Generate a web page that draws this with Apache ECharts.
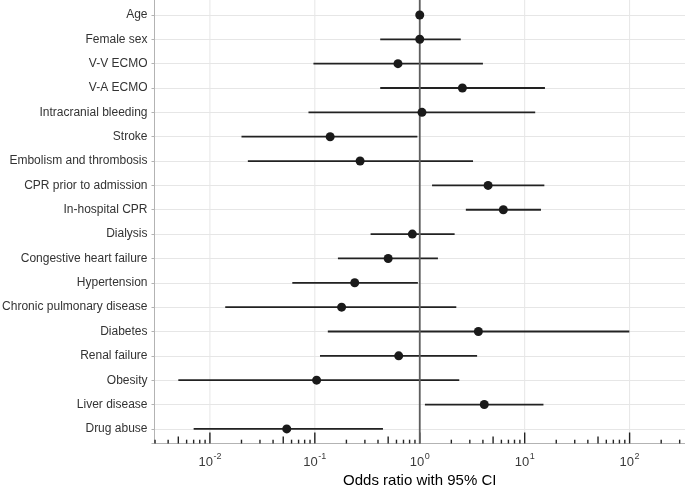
<!DOCTYPE html>
<html>
<head>
<meta charset="utf-8">
<script src="https://cdn.jsdelivr.net/npm/echarts@6/dist/echarts.min.js"></script>
<style>html,body{margin:0;padding:0;background:#fff}#c{width:685px;height:485px}</style>
</head>
<body>
<div id="c"></div>
<script>
const categories = ['Age','Female sex','V-V ECMO','V-A ECMO','Intracranial bleeding','Stroke','Embolism and thrombosis','CPR prior to admission','In-hospital CPR','Dialysis','Congestive heart failure','Hypertension','Chronic pulmonary disease','Diabetes','Renal failure','Obesity','Liver disease','Drug abuse'];
const oddsRatio = [1.0, 1.0, 0.62, 2.55, 1.05, 0.14, 0.27, 4.48, 6.26, 0.85, 0.50, 0.24, 0.18, 3.62, 0.63, 0.104, 4.12, 0.054];
const ciLower  = [0.99, 0.42, 0.097, 0.42, 0.087, 0.020, 0.023, 1.31, 2.75, 0.34, 0.166, 0.061, 0.014, 0.133, 0.112, 0.0050, 1.12, 0.0070];
const ciUpper  = [1.01, 2.46, 4.0, 15.6, 12.6, 0.95, 3.22, 15.4, 14.3, 2.15, 1.49, 0.96, 2.23, 99.4, 3.52, 2.38, 15.1, 0.446];
const tickExponents = [-2, -1, 0, 1, 2];
const logTickDecades = [-3, -2, -1, 0, 1, 2];
const logTickMultipliers = [1, 2, 3, 4, 5, 6, 7, 8, 9];
const referenceOR = 1;

const xMin = -2.528, xMax = 2.528;
const yMin = -1, yMax = 17.6;
const lg = v => Math.log10(v);

const ciData = categories.map((c, i) => [lg(ciLower[i]), lg(ciUpper[i]), i]);
const pointData = categories.map((c, i) => [lg(oddsRatio[i]), i]);
const rugData = [];
logTickDecades.forEach(d => logTickMultipliers.forEach(m => {
  const v = d + Math.log10(m);
  if (v >= xMin && v <= xMax) rugData.push([v, yMax, m]);
}));
const gridData = tickExponents.map(e => [e, yMax]);

const chart = echarts.init(document.getElementById('c'), null, {renderer: 'canvas'});
chart.setOption({
  animation: false,
  backgroundColor: '#fff',
  grid: {left: 154.5, right: 0, top: -9.4, bottom: 41.5, containLabel: false, outerBoundsMode: 'none'},
  xAxis: {
    type: 'value', min: xMin, max: xMax,
    axisLine: {show: true, onZero: false, lineStyle: {color: '#b3b3b3', width: 1}},
    axisTick: {show: false},
    splitLine: {show: false},
    axisLabel: {
      customValues: tickExponents,
      margin: 9,
      formatter: v => '{b|10}{s|' + Math.round(v) + '}',
      rich: {
        b: {fontFamily: 'Liberation Sans', fontSize: 13, color: '#3a3a3a', lineHeight: 16, verticalAlign: 'bottom'},
        s: {fontFamily: 'Liberation Sans', fontSize: 9, color: '#3a3a3a', lineHeight: 16, verticalAlign: 'top', padding: [0, 0, 0, 0.5]}
      }
    },
    name: 'Odds ratio with 95% CI',
    nameLocation: 'middle',
    nameGap: 30,
    nameTextStyle: {fontFamily: 'Liberation Sans', fontSize: 15, color: '#000'}
  },
  yAxis: {
    type: 'value', inverse: true, min: yMin, max: yMax, interval: 1,
    axisLine: {show: true, onZero: false, lineStyle: {color: '#b3b3b3', width: 1}},
    axisTick: {show: true, length: 3, lineStyle: {color: '#b3b3b3'}},
    splitLine: {show: true, lineStyle: {color: '#e6e6e6', width: 1}},
    axisLabel: {
      margin: 7,
      fontFamily: 'Liberation Sans', fontSize: 12, color: '#333',
      formatter: v => (Number.isInteger(v) && v >= 0 && v < categories.length) ? categories[v] : ''
    }
  },
  series: [
    {
      type: 'custom', name: 'xgrid', data: gridData, silent: true, z: 1,
      renderItem: (params, api) => {
        const top = api.coord([api.value(0), yMin]);
        const bot = api.coord([api.value(0), yMax]);
        return {type: 'line', shape: {x1: top[0], y1: top[1], x2: bot[0], y2: bot[1]}, style: {stroke: '#e6e6e6', lineWidth: 1}};
      }
    },
    {
      type: 'custom', name: 'rug', data: rugData, silent: true, z: 3,
      renderItem: (params, api) => {
        const p = api.coord([api.value(0), api.value(1)]);
        const m = api.value(2);
        const len = m === 1 ? 11 : (m === 5 ? 7 : 3.8);
        return {type: 'line', shape: {x1: p[0], y1: p[1], x2: p[0], y2: p[1] - len}, style: {stroke: '#222', lineWidth: 1.4}};
      }
    },
    {
      type: 'custom', name: 'ci', data: ciData, silent: true, z: 4,
      renderItem: (params, api) => {
        const a = api.coord([api.value(0), api.value(2)]);
        const b = api.coord([api.value(1), api.value(2)]);
        return {type: 'line', shape: {x1: a[0], y1: a[1], x2: b[0], y2: b[1]}, style: {stroke: '#222', lineWidth: 1.8}};
      }
    },
    {
      type: 'custom', name: 'ref', data: [[lg(referenceOR), yMax]], silent: true, z: 5,
      renderItem: (params, api) => {
        const top = api.coord([api.value(0), yMin]);
        const bot = api.coord([api.value(0), yMax]);
        return {type: 'line', shape: {x1: top[0], y1: top[1], x2: bot[0], y2: bot[1]}, style: {stroke: '#5e5e5e', lineWidth: 1.8}};
      }
    },
    {
      type: 'scatter', name: 'OR', data: pointData, symbol: 'circle', symbolSize: 9, z: 6,
      itemStyle: {color: '#1a1a1a', opacity: 1}, silent: true
    }
  ]
});
</script>
</body>
</html>
